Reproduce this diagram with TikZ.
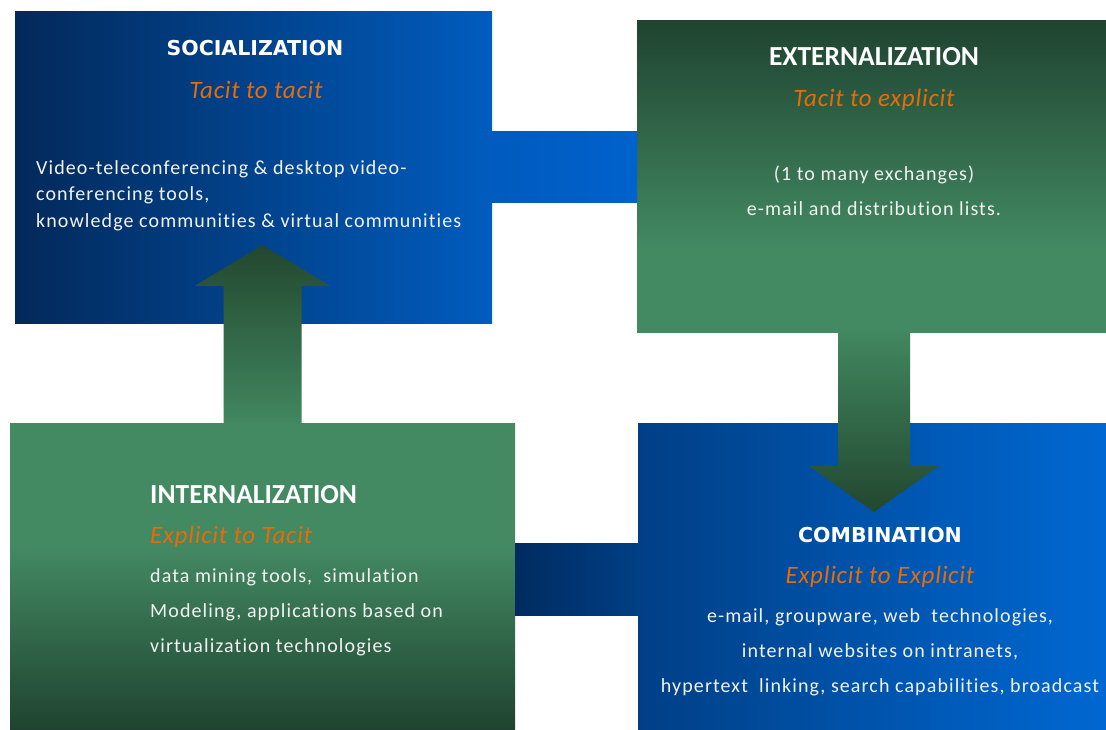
\documentclass[tikz,border=0pt]{standalone}
\usepackage{fontspec}
\setmainfont{Carlito}
\newfontfamily\wideheadfont{DejaVu Sans}
\newfontfamily\spacedbody{Carlito}[LetterSpace=5.5, Ligatures={NoCommon}]
\newfontfamily\spacedsub{Carlito}[LetterSpace=3, Ligatures={NoCommon}]
\usetikzlibrary{calc}

% palette
\definecolor{navyL}{HTML}{03295A}
\definecolor{navyR}{HTML}{005CBE}
\definecolor{combL}{HTML}{003F86}
\definecolor{combR}{HTML}{0068D2}
\definecolor{linkTopL}{HTML}{005ABF}
\definecolor{linkTopR}{HTML}{0062CC}
\definecolor{linkBotL}{HTML}{002B60}
\definecolor{linkBotR}{HTML}{003F84}
\definecolor{gDark}{HTML}{1F4330}
\definecolor{gLight}{HTML}{438A63}
\definecolor{arrowDark}{HTML}{22472F}
\definecolor{arrowLight}{HTML}{41875F}
\definecolor{bodyWhite}{HTML}{F2F2F2}
\definecolor{accentOrange}{HTML}{E46C0A}

% green panels: dark above, light below (and the reverse)
\pgfdeclareverticalshading{extgreen}{100bp}{color(0bp)=(gLight); color(38bp)=(gLight); color(75bp)=(gDark); color(100bp)=(gDark)}
\pgfdeclareverticalshading{intgreen}{100bp}{color(0bp)=(gDark); color(25bp)=(gDark); color(55bp)=(gLight); color(100bp)=(gLight)}

\begin{document}
\begin{tikzpicture}[x=1pt,y=-1pt,
  panel/.style={rectangle, draw=none, inner sep=0pt, outer sep=0pt, anchor=north west},
  headwide/.style={text=white, inner sep=0pt, font=\wideheadfont\bfseries\fontsize{20.5}{23}\selectfont},
  headnarrow/.style={text=white, inner sep=0pt, font=\bfseries\fontsize{27.5}{31}\selectfont},
  subtitle/.style={text=accentOrange, inner sep=0pt, font=\spacedsub\itshape\fontsize{25}{28}\selectfont},
  bodytext/.style={text=bodyWhite, inner sep=0pt, font=\spacedbody\fontsize{20}{35}\selectfont},
]
\useasboundingbox (0,0) rectangle (1106,729);
\fill[white] (0,0) rectangle (1106,729);

% the four panels
\node[panel, minimum width=477pt, minimum height=312pt, left color=navyL, right color=navyR] (soc) at (15,11) {};
\node[panel, minimum width=469pt, minimum height=312pt, shading=extgreen] (ext) at (637,20) {};
\node[panel, minimum width=505pt, minimum height=306pt, shading=intgreen] (int) at (10,423) {};
\node[panel, minimum width=468pt, minimum height=306pt, left color=combL, right color=combR] (comb) at (638,423) {};

% horizontal links between neighbouring panels
\path[left color=linkTopL, right color=linkTopR]
  ($(soc.north east)+(0,120)$) rectangle ($(ext.north west)+(0,182)$);
\path[left color=linkBotL, right color=linkBotR]
  ($(int.north east)+(0,120)$) rectangle ($(comb.north west)+(0,192)$);

% block arrow: internalization up to socialization
\coordinate (ua) at (int.north);
\path[top color=arrowDark, bottom color=arrowLight]
  ($(ua)+(-39,0)$) -- ($(ua)+(-39,-137)$) -- ($(ua)+(-68,-137)$) -- ($(ua)+(0,-178)$)
  -- ($(ua)+(68,-137)$) -- ($(ua)+(39,-137)$) -- ($(ua)+(39,0)$) -- cycle;

% block arrow: externalization down to combination
\coordinate (da) at ($(ext.south)+(2.5,0)$);
\path[top color=arrowLight, bottom color=arrowDark]
  ($(da)+(-36,0)$) -- ($(da)+(-36,134)$) -- ($(da)+(-65,134)$) -- ($(da)+(0,180)$)
  -- ($(da)+(65,134)$) -- ($(da)+(36,134)$) -- ($(da)+(36,0)$) -- cycle;

% socialization
\node[headwide] (socT) at (255,48) {SOCIALIZATION};
\node[subtitle] (socS) at (256,90) {Tacit to tacit};
\node[bodytext, anchor=north west, align=left, font=\spacedbody\fontsize{20}{26.5}\selectfont] (socB) at (36,160)
  {Video-teleconferencing \& desktop video-\\conferencing tools,\\knowledge communities \& virtual communities};

% externalization
\node[headnarrow] (extT) at (874,57) {EXTERNALIZATION};
\node[subtitle] (extS) at (874,100) {Tacit to explicit};
\node[bodytext, anchor=north, align=center] (extB) at (874,166)
  {(1 to many exchanges)\\e-mail and distribution lists.};

% internalization
\node[headnarrow, anchor=west] (intT) at (150,495) {INTERNALIZATION};
\node[subtitle, anchor=west] (intS) at (150,537) {Explicit to Tacit};
\node[bodytext, anchor=north west, align=left] (intB) at (150,568)
  {data mining tools,\ \ simulation\\Modeling, applications based on\\virtualization technologies};

% combination
\node[headwide] (combT) at (880,535) {COMBINATION};
\node[subtitle] (combS) at (880,577) {Explicit to Explicit};
\node[bodytext, anchor=north, align=center] (combB) at (880,608)
  {e-mail, groupware, web\ \ technologies,\\internal websites on intranets,\\hypertext\ \ linking, search capabilities, broadcast};
\end{tikzpicture}
\end{document}
